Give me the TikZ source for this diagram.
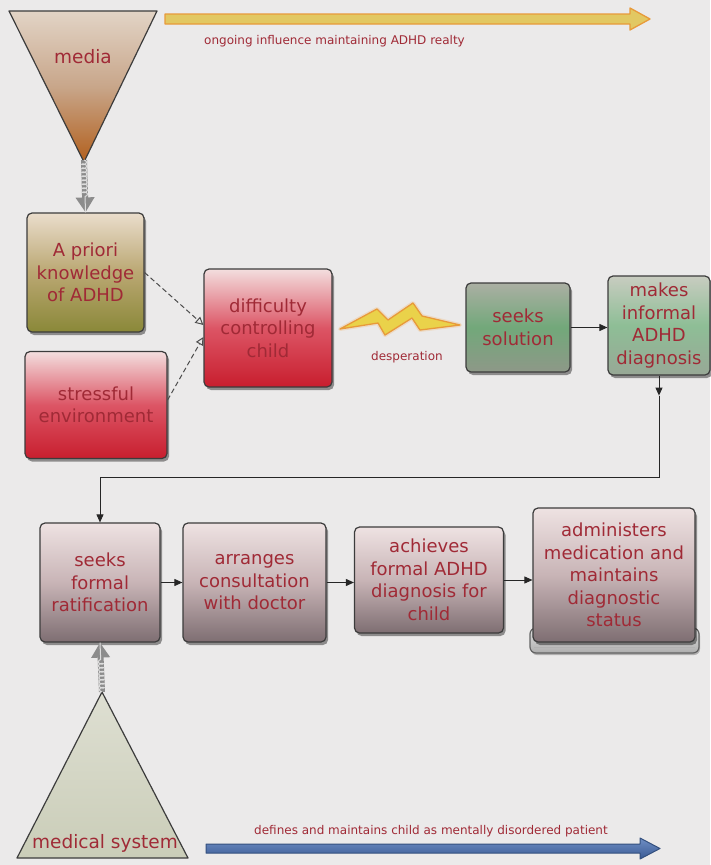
\documentclass[tikz,border=0pt]{standalone}
\usepackage{fontspec}
\setmainfont{DejaVu Sans}
\usetikzlibrary{arrows.meta,shadows,decorations.pathmorphing}

% palette
\definecolor{bg}{HTML}{EBEAEA}
\definecolor{txt}{HTML}{A02A36}
\definecolor{edge}{HTML}{3C3C3C}
\definecolor{twistgray}{HTML}{8C8C8C}
\definecolor{oliveT}{HTML}{EADDCC}
\definecolor{oliveM}{HTML}{BAA772}
\definecolor{oliveB}{HTML}{8A8838}
\definecolor{redT}{HTML}{F3DEDE}
\definecolor{redM}{HTML}{DC5565}
\definecolor{redB}{HTML}{C81E2E}
\definecolor{grnT}{HTML}{ABAFA3}
\definecolor{grnM}{HTML}{72A87A}
\definecolor{grnB}{HTML}{8E9888}
\definecolor{grlT}{HTML}{C8CCC0}
\definecolor{grlM}{HTML}{8EBE96}
\definecolor{grlB}{HTML}{98A896}
\definecolor{mauT}{HTML}{EEE2E2}
\definecolor{mauM}{HTML}{C8B4B6}
\definecolor{mauB}{HTML}{7E6E72}
\definecolor{mediaT}{HTML}{E2D4C6}
\definecolor{mediaM}{HTML}{C8A68A}
\definecolor{mediaB}{HTML}{B2601E}
\definecolor{medT}{HTML}{DEDFD2}
\definecolor{medB}{HTML}{CACDB8}
\definecolor{goldfill}{HTML}{E2C862}
\definecolor{goldedge}{HTML}{E89A3A}
\definecolor{boltfill}{HTML}{EAD24A}
\definecolor{blueT}{HTML}{6E8EC4}
\definecolor{blueB}{HTML}{3A5A94}
\definecolor{blueedge}{HTML}{34507E}

\tikzset{
  box/.style={draw=edge, line width=1.2pt, rounded corners=5pt, align=center,
    text=txt, font=\fontsize{18}{22.5}\selectfont, inner sep=2pt,
    drop shadow={opacity=0.4, shadow xshift=2pt, shadow yshift=-3pt, fill=black}},
  olivebox/.style={box, top color=oliveT, bottom color=oliveB, middle color=oliveM},
  redbox/.style={box, top color=redT, bottom color=redB, middle color=redM},
  greenbox/.style={box, top color=grnT, bottom color=grnB, middle color=grnM},
  greenlight/.style={box, top color=grlT, bottom color=grlB, middle color=grlM},
  mauvebox/.style={box, top color=mauT, bottom color=mauB, middle color=mauM},
  conn/.style={draw=black!85, line width=0.9pt, -{Triangle[length=8pt,width=7pt]}},
  dasharrow/.style={draw=black!70, line width=1pt, dash pattern=on 5pt off 3pt,
    -{Triangle[open,length=8pt,width=8pt]}},
  twist/.style={draw=twistgray, line width=6pt, -{Triangle[length=15pt,width=18pt]},
    postaction={draw=white!70!twistgray, line width=1pt, arrows=-, decorate,
      decoration={coil, amplitude=2.5pt, segment length=4pt, post length=15pt}}},
  smalltext/.style={text=txt, font=\fontsize{12}{14}\selectfont, inner sep=0pt},
  tritext/.style={text=txt, font=\fontsize{18.5}{22}\selectfont, inner sep=0pt},
}

\begin{document}
\begin{tikzpicture}[x=1pt,y=-1pt]
\fill[bg] (0,0) rectangle (710,865);
\useasboundingbox (0,0) rectangle (710,865);

% media triangle (inverted)
\shade[top color=mediaT, bottom color=mediaB, middle color=mediaM]
  (9,11) -- (157,11) -- (84,162) -- cycle;
\draw[edge, line width=1.2pt, line join=round] (9,11) -- (157,11) -- (84,162) -- cycle;
\coordinate (mediatip) at (84,160);
\node[tritext] (media) at (83,57) {media};

% yellow influence arrow
\draw[goldedge, line width=1.3pt, fill=goldfill, line join=round]
  (165,14) -- (630,14) -- (630,8) -- (650,19) -- (630,30) -- (630,24) -- (165,24) -- cycle;
\node[smalltext, anchor=west] (influence) at (204,41) {ongoing influence maintaining ADHD realty};

% top-left boxes
\node[olivebox, minimum width=117pt, minimum height=119pt] (apriori) at (85.5,272.5)
  {A priori\\knowledge\\of ADHD};
\node[redbox, minimum width=142pt, minimum height=107pt] (stressful) at (96,405)
  {stressful\\environment};
\node[redbox, minimum width=128pt, minimum height=118pt] (difficulty) at (268,328)
  {difficulty\\controlling\\child};

% media feeds prior knowledge
\draw[twist] (mediatip) -- (apriori.north);

% contributing factors
\draw[dasharrow] (apriori.east) -- ([yshift=3pt]difficulty.west);
\draw[dasharrow] ([yshift=5pt]stressful.east) -- ([yshift=-9pt]difficulty.west);

% lightning bolt: desperation
\draw[goldedge!70, line width=4pt, opacity=0.3, line join=round]
  (340,329) -- (377,309) -- (388,320) -- (413,303) -- (422,316) -- (460,325)
  -- (420,330) -- (412,318) -- (385,335) -- (378,323) -- cycle;
\draw[goldedge, line width=1.3pt, fill=boltfill, line join=round]
  (340,329) -- (377,309) -- (388,320) -- (413,303) -- (422,316) -- (460,325)
  -- (420,330) -- (412,318) -- (385,335) -- (378,323) -- cycle;
\node[smalltext] (desperation) at (407,357) {desperation};

% green boxes
\node[greenbox, minimum width=104pt, minimum height=89pt] (seeksol) at (518,327.5)
  {seeks\\solution};
\node[greenlight, minimum width=102pt, minimum height=99pt] (informal) at (659,325.5)
  {makes\\informal\\ADHD\\diagnosis};
\draw[conn] (seeksol.east) -- (seeksol.east -| informal.west);

% bottom row
\node[mauvebox, minimum width=120pt, minimum height=119pt] (ratify) at (100,582.5)
  {seeks\\formal\\ratification};
\node[mauvebox, minimum width=143pt, minimum height=119pt] (consult) at (254.5,582.5)
  {arranges\\consultation\\with doctor};
\node[mauvebox, minimum width=149pt, minimum height=106pt] (achieve) at (429,580)
  {achieves\\formal ADHD\\diagnosis for\\child};

% rolled base under the last box
\draw[edge!80, line width=1.2pt, rounded corners=6pt, top color=black!12, bottom color=black!32,
  drop shadow={opacity=0.25, shadow xshift=1pt, shadow yshift=-2pt, fill=black}]
  (530,628) rectangle (699,653);
\draw[white!70!black, line width=0.8pt] (534,647) -- (695,647);
\node[mauvebox, minimum width=162pt, minimum height=134pt] (administer) at (614,575)
  {administers\\medication and\\maintains\\diagnostic\\status};

% informal diagnosis leads to formal ratification
\coordinate (drop) at ([yshift=-20pt]informal.south);
\draw[conn] (informal.south) -- (drop);
\draw[conn] (drop) -- ++(0,82) -| (ratify.north);

\draw[conn] (ratify.east) -- (ratify.east -| consult.west);
\draw[conn] (consult.east) -- (consult.east -| achieve.west);
\draw[conn] (achieve.east) -- (achieve.east -| administer.west);

% medical system triangle
\shade[top color=medT, bottom color=medB] (102,692) -- (188,858) -- (17,858) -- cycle;
\draw[edge, line width=1.2pt, line join=round] (102,692) -- (188,858) -- (17,858) -- cycle;
\coordinate (medtip) at (102,692);
\node[tritext] (medical) at (105,843) {medical system};
\draw[twist] (medtip) -- (ratify.south);

% blue defining arrow
\draw[blueedge, line width=1pt, top color=blueT, bottom color=blueB, line join=round]
  (206,844) -- (640,844) -- (640,838) -- (660,848.5) -- (640,859) -- (640,853) -- (206,853) -- cycle;
\node[smalltext, anchor=west] (defines) at (254,831)
  {defines and maintains child as mentally disordered patient};
\end{tikzpicture}
\end{document}
